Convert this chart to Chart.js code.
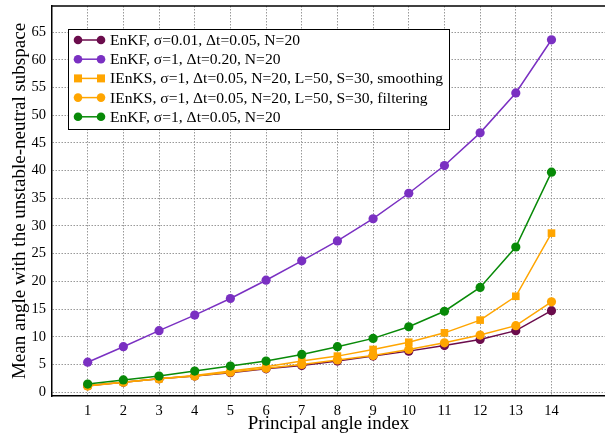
<!DOCTYPE html>
<html>
<head>
<meta charset="utf-8">
<script src="https://cdn.jsdelivr.net/npm/chart.js@4.4.0/dist/chart.umd.min.js"></script>
<style>
  html, body { margin: 0; padding: 0; background: white; }
  #wrap { width: 605px; height: 435px; }
</style>
</head>
<body>
<div id="wrap"><canvas id="grafico" width="605" height="435"></canvas></div>
<script>
const indices = [1, 2, 3, 4, 5, 6, 7, 8, 9, 10, 11, 12, 13, 14]
const yTicks = [0, 5, 10, 15, 20, 25, 30, 35, 40, 45, 50, 55, 60, 65]

const enkfSmallSigma = [1.15, 1.8, 2.4, 2.9, 3.5, 4.2, 4.8, 5.6, 6.5, 7.4, 8.4, 9.5, 11.1, 14.7]
const enkfLargeDt = [5.4, 8.2, 11.1, 13.9, 16.9, 20.2, 23.7, 27.3, 31.3, 35.9, 40.9, 46.8, 54.0, 63.6]
const ienksSmoothing = [1.2, 1.8, 2.4, 3.0, 3.8, 4.6, 5.6, 6.5, 7.7, 9.0, 10.7, 13.0, 17.3, 28.7]
const ienksFiltering = [1.1, 1.8, 2.4, 2.9, 3.6, 4.3, 5.0, 5.8, 6.6, 7.7, 8.9, 10.3, 12.0, 16.3]
const enkfSigmaOne = [1.45, 2.2, 2.9, 3.8, 4.7, 5.6, 6.8, 8.2, 9.7, 11.8, 14.6, 18.9, 26.2, 39.7]

const labels = [
    'EnKF, σ=0.01, Δt=0.05, N=20',
    'EnKF, σ=1, Δt=0.20, N=20',
    'IEnKS, σ=1, Δt=0.05, N=20, L=50, S=30, smoothing',
    'IEnKS, σ=1, Δt=0.05, N=20, L=50, S=30, filtering',
    'EnKF, σ=1, Δt=0.05, N=20'
]
const series = [enkfSmallSigma, enkfLargeDt, ienksSmoothing, ienksFiltering, enkfSigmaOne]
const colores = ['#6b0c4c', '#7a30c2', '#ffa500', '#ffa500', '#088a08']
const estilos = ['circle', 'circle', 'rect', 'circle', 'circle']

const serif = "'Liberation Serif', 'DejaVu Serif', serif"

const datasets = series.map((valores, i) => {
    return {
        label: labels[i],
        data: indices.map((x, j) => ({ x: x, y: valores[j] })),
        borderColor: colores[i],
        backgroundColor: colores[i],
        pointStyle: estilos[i],
        pointRadius: estilos[i] === 'rect' ? 5.4 : 4.6,
        pointBorderWidth: 0,
        borderWidth: 1.5,
        order: 10 - i
    }
})

// legend box inside the plot, plus top frame line
const leyenda = {
    id: 'leyenda',
    afterDraw(chart) {
        const ctx = chart.ctx
        const area = chart.chartArea
        ctx.save()
        ctx.strokeStyle = 'black'
        ctx.lineWidth = 1.5
        ctx.beginPath()
        ctx.moveTo(area.left, area.top)
        ctx.lineTo(area.right, area.top)
        ctx.stroke()

        const bx = 68, by = 29, bw = 381, bh = 100
        ctx.fillStyle = 'white'
        ctx.fillRect(bx, by, bw, bh)
        ctx.lineWidth = 1
        ctx.strokeRect(bx + 0.5, by + 0.5, bw, bh)

        ctx.font = '15.6px ' + serif
        ctx.textBaseline = 'middle'
        chart.data.datasets.forEach((ds, i) => {
            const y = 40 + i * 19.2
            ctx.strokeStyle = ds.borderColor
            ctx.fillStyle = ds.borderColor
            ctx.lineWidth = 1.5
            ctx.beginPath()
            ctx.moveTo(78, y)
            ctx.lineTo(101, y)
            ctx.stroke()
            ;[78, 101].forEach(px => {
                if (ds.pointStyle === 'rect') {
                    ctx.fillRect(px - 4, y - 4, 8, 8)
                } else {
                    ctx.beginPath()
                    ctx.arc(px, y, 4.3, 0, Math.PI * 2)
                    ctx.fill()
                }
            })
            ctx.fillStyle = 'black'
            ctx.fillText(ds.label, 110, y + 1)
        })
        ctx.restore()
    }
}

const config = {
    type: 'line',
    data: { datasets },
    options: {
        responsive: false,
        animation: false,
        layout: { autoPadding: false, padding: { top: 6, right: 0, left: 0, bottom: 0 } },
        plugins: { legend: { display: false }, tooltip: { enabled: false } },
        scales: {
            x: {
                type: 'linear',
                min: 0,
                max: 15.5,
                afterBuildTicks: (axis) => { axis.ticks = indices.map(v => ({ value: v })) },
                afterFit: (axis) => {
                    axis.height = 39
                    axis.paddingLeft = 0
                    axis.paddingRight = 0
                },
                grid: { color: '#999', drawTicks: false, lineWidth: 1 },
                border: { color: 'black', width: 1.5, dash: [1.5, 1.5] },
                ticks: { color: 'black', font: { family: serif, size: 14.5 }, padding: 6, maxRotation: 0 },
                title: {
                    display: true,
                    text: 'Principal angle index',
                    color: 'black',
                    font: { family: serif, size: 19 },
                    padding: 0
                }
            },
            y: {
                type: 'linear',
                min: -0.7,
                max: 69.7,
                afterBuildTicks: (axis) => { axis.ticks = yTicks.map(v => ({ value: v })) },
                afterFit: (axis) => {
                    axis.width = 52
                    axis.paddingTop = 0
                    axis.paddingBottom = 0
                },
                grid: { color: '#999', drawTicks: false, lineWidth: 1 },
                border: { color: 'black', width: 1.5, dash: [1.5, 1.5] },
                ticks: { color: 'black', font: { family: serif, size: 14.5 }, padding: 6 },
                title: {
                    display: true,
                    text: 'Mean angle with the unstable-neutral subspace',
                    color: 'black',
                    font: { family: serif, size: 19 },
                    padding: { top: 9, bottom: 0 }
                }
            }
        }
    },
    plugins: [leyenda]
}

const grafico = document.querySelector('#grafico')
new Chart(grafico, config)
</script>
</body>
</html>
